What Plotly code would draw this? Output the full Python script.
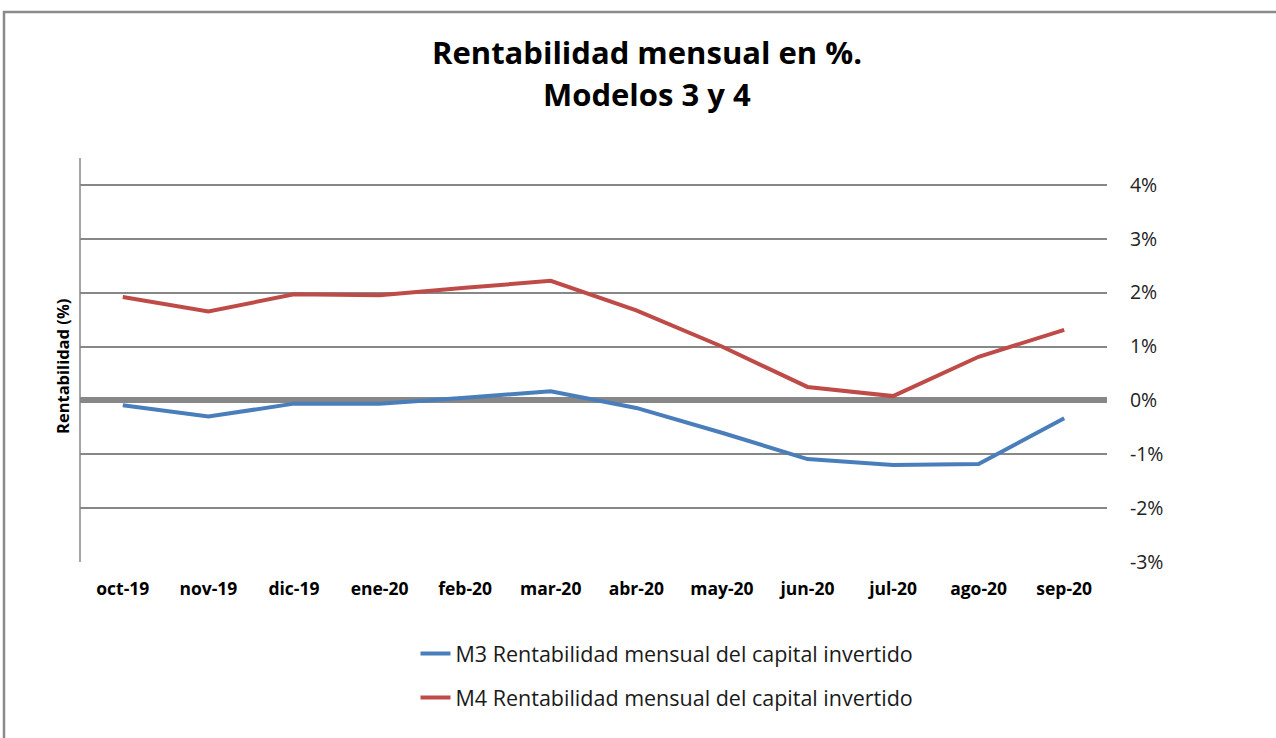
import plotly.graph_objects as go

categories = ["oct-19", "nov-19", "dic-19", "ene-20", "feb-20", "mar-20",
              "abr-20", "may-20", "jun-20", "jul-20", "ago-20", "sep-20"]
m3_values = [-0.09, -0.30, -0.06, -0.06, 0.05, 0.17, -0.14, -0.60, -1.09, -1.20, -1.18, -0.33]
m4_values = [1.92, 1.65, 1.97, 1.95, 2.09, 2.22, 1.67, 1.00, 0.25, 0.08, 0.81, 1.31]
m3_name = "M3 Rentabilidad mensual del capital invertido"
m4_name = "M4 Rentabilidad mensual del capital invertido"
tick_vals = [4, 3, 2, 1, 0, -1, -2, -3]
tick_text = ["4%", "3%", "2%", "1%", "0%", "-1%", "-2%", "-3%"]
title_lines = ["Rentabilidad mensual en %.", "Modelos 3 y 4"]

FONT = "Open Sans"
GRID = "#878787"
W, H = 1276, 738
L, R, T, B = 80, 169, 158, 176
PW, PH = W - L - R, H - T - B


def px(xpix):
    return (xpix - L) / PW


def py(ypix):
    return (H - B - ypix) / PH


fig = go.Figure()
fig.add_trace(go.Scatter(x=categories, y=m3_values, mode="lines", name=m3_name,
                         line=dict(color="#4A7EBB", width=4), legendgroup="a"))
fig.add_trace(go.Scatter(x=categories, y=m4_values, mode="lines", name=m4_name,
                         line=dict(color="#BE4B48", width=4), legendgroup="b"))

fig.update_layout(
    width=W, height=H,
    margin=dict(l=L, r=R, t=T, b=B, pad=0),
    paper_bgcolor="white", plot_bgcolor="white",
    font=dict(family=FONT, color="black"),
    showlegend=True,
    legend=dict(orientation="v", x=px(667), xref="paper", xanchor="center",
                y=py(633), yanchor="top", font=dict(family=FONT, size=21.5, color="#1a1a1a"),
                tracegroupgap=13, bgcolor="rgba(0,0,0,0)"),
    xaxis=dict(type="category", range=[-0.5, 11.5], showgrid=False, zeroline=False,
               showline=False, ticks="outside", ticklen=11, tickcolor="rgba(0,0,0,0)",
               tickfont=dict(family=FONT, size=17.5, color="black", weight="bold"),
               fixedrange=True),
    yaxis=dict(side="right", range=[-3, 4.5], tickvals=tick_vals, ticktext=tick_text,
               showgrid=True, gridcolor=GRID, gridwidth=1.5,
               zeroline=True, zerolinecolor=GRID, zerolinewidth=6,
               showline=False, ticks="outside", ticklen=18, tickcolor="rgba(0,0,0,0)",
               tickfont=dict(family=FONT, size=19.5, color="#222222"), fixedrange=True),
    shapes=[
        dict(type="line", xref="paper", yref="y", x0=0, x1=0, y0=-3, y1=4.5,
             line=dict(color=GRID, width=1.5)),
        dict(type="rect", xref="paper", yref="paper",
             x0=px(4), x1=px(1300), y0=py(760), y1=py(12),
             line=dict(color="#8a8a8a", width=2.5), fillcolor="rgba(0,0,0,0)", layer="below"),
    ],
    annotations=[
        dict(text="<b>Rentabilidad (%)</b>", textangle=-90, xref="paper", yref="paper",
             x=px(62), y=py(367), xanchor="center", yanchor="middle",
             showarrow=False, font=dict(family=FONT, size=16.5, color="black")),
        dict(text="<b>" + title_lines[0] + "</b>", xref="paper", yref="paper",
             x=px(647), y=py(52), xanchor="center", yanchor="middle",
             showarrow=False, font=dict(family=FONT, size=31, color="black")),
        dict(text="<b>" + title_lines[1] + "</b>", xref="paper", yref="paper",
             x=px(647), y=py(94), xanchor="center", yanchor="middle",
             showarrow=False, font=dict(family=FONT, size=31, color="black")),
    ],
)

fig.write_html("out.html", config={"displayModeBar": False},
               post_script="document.body.style.margin='0';")
